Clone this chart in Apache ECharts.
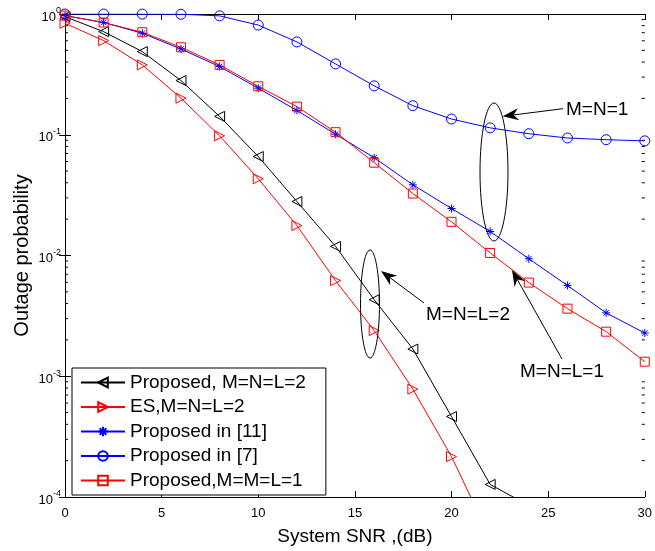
<!DOCTYPE html>
<html>
<head>
<meta charset="utf-8">
<script src="https://cdn.jsdelivr.net/npm/echarts@6/dist/echarts.min.js"></script>
<style>
  html, body { margin: 0; padding: 0; background: #fff; }
  #chart { width: 655px; height: 551px; }
</style>
</head>
<body>
<div id="chart"></div>
<script>
// x axis: system SNR in dB
const snr = [0, 2, 4, 6, 8, 10, 12, 14, 16, 18, 20, 22, 24, 26, 28, 30]
const xTicks = [0, 5, 10, 15, 20, 25, 30]
const yDecades = [1e-4, 1e-3, 1e-2, 1e-1, 1]

const seriesNames = ['Proposed, M=N=L=2', 'ES,M=N=L=2', 'Proposed in [11]', 'Proposed in [7]', 'Proposed,M=M=L=1']
// outage probability, one value per snr point (shorter arrays end below 1e-4)
const proposed2 = [0.95, 0.714, 0.488, 0.281, 0.142, 0.066, 0.028, 0.0119, 0.0043, 0.00168, 0.000464, 0.000127, 0.000085]
const es2 = [0.838, 0.602, 0.379, 0.201, 0.098, 0.0432, 0.0177, 0.00619, 0.00239, 0.000782, 0.000216, 0.000046]
const ref11 = [0.97, 0.85, 0.693, 0.513, 0.367, 0.243, 0.159, 0.101, 0.0646, 0.0385, 0.0245, 0.0158, 0.0094, 0.00565, 0.00335, 0.00228]
const ref7 = [1.0, 0.999, 0.998, 0.995, 0.965, 0.81, 0.587, 0.386, 0.254, 0.174, 0.135, 0.114, 0.102, 0.094, 0.091, 0.089]
const proposed1 = [0.97, 0.85, 0.706, 0.53, 0.379, 0.252, 0.171, 0.105, 0.0587, 0.0326, 0.019, 0.0105, 0.00597, 0.00363, 0.00234, 0.00132]

// minor log ticks 2..9 in every decade
const minorTicks = []
for (let d = -4; d < 0; d++) {
  for (let k = 2; k <= 9; k++) minorTicks.push(k * Math.pow(10, d))
}

const pair = (vals) => vals.map((v, i) => [snr[i], v])

const FONT = 'Liberation Sans, Arial, sans-serif'

const makeSeries = (name, vals, color, symbol, size) => ({
  name,
  type: 'line',
  data: pair(vals),
  symbol,
  symbolSize: size,
  showSymbol: true,
  lineStyle: { color, width: 1 },
  itemStyle: { color: 'rgba(255,255,255,0)', borderColor: color, borderWidth: 1 },
  emphasis: { disabled: true },
  clip: true,
  z: 3,
})

// arrow with a notched head, from text to the curves
const arrow = (x1, y1, x2, y2) => {
  const a = Math.atan2(y2 - y1, x2 - x1)
  const len = 16, half = 6, notch = 11
  const bx = x2 - len * Math.cos(a), by = y2 - len * Math.sin(a)
  const nx = x2 - notch * Math.cos(a), ny = y2 - notch * Math.sin(a)
  const px = -Math.sin(a) * half, py = Math.cos(a) * half
  return [
    { type: 'line', shape: { x1, y1, x2: nx, y2: ny }, style: { stroke: '#000', lineWidth: 1 }, z: 10 },
    {
      type: 'polygon',
      shape: { points: [[x2, y2], [bx + px, by + py], [nx, ny], [bx - px, by - py]] },
      style: { fill: '#000' },
      z: 10,
    },
  ]
}

const chart = echarts.init(document.getElementById('chart'))

const option = {
  animation: false,
  backgroundColor: '#fff',
  grid: { left: 65, right: 7, top: 14, bottom: 53 },
  legend: {
    data: seriesNames,
    orient: 'vertical',
    left: 72,
    top: 368,
    padding: [5, 20, 5, 8],
    itemWidth: 44,
    itemHeight: 12,
    itemGap: 5.5,
    backgroundColor: '#fff',
    borderColor: '#000',
    borderWidth: 1,
    borderRadius: 0,
    textStyle: { fontFamily: FONT, fontSize: 19, color: '#000' },
    selectedMode: false,
    z: 20,
  },
  xAxis: [
    {
      type: 'value',
      min: 0,
      max: 30,
      interval: 5,
      name: 'System SNR ,(dB)',
      nameLocation: 'middle',
      nameGap: 30,
      nameTextStyle: { fontFamily: FONT, fontSize: 19, color: '#000' },
      axisLine: { lineStyle: { color: '#000', width: 1 } },
      axisTick: { inside: true, length: 6, lineStyle: { color: '#000' } },
      axisLabel: {
        fontFamily: FONT, fontSize: 13, color: '#000', margin: 10,
        formatter: (v) => (xTicks.includes(v) ? String(v) : ''),
      },
      splitLine: { show: false },
    },
    {
      type: 'value',
      position: 'top',
      min: 0,
      max: 30,
      interval: 5,
      axisLine: { lineStyle: { color: '#000', width: 1 } },
      axisTick: { inside: true, length: 6, lineStyle: { color: '#000' } },
      axisLabel: { show: false },
      splitLine: { show: false },
    },
  ],
  yAxis: [
    {
      type: 'log',
      logBase: 10,
      min: yDecades[0],
      max: yDecades[yDecades.length - 1],
      splitNumber: 4,
      name: 'Outage probability',
      nameLocation: 'middle',
      nameGap: 33,
      nameMoveOverlap: false,
      nameTextStyle: { fontFamily: FONT, fontSize: 20, color: '#000' },
      axisLine: { lineStyle: { color: '#000', width: 1 } },
      axisTick: { inside: true, length: 6, lineStyle: { color: '#000' } },
      axisLabel: {
        margin: 4,
        formatter: (v) => '{b|10}{s|' + Math.round(Math.log10(v)) + '}',
        rich: {
          b: { fontFamily: FONT, fontSize: 13, color: '#000', padding: [6, 0, 0, 0] },
          s: { fontFamily: FONT, fontSize: 9, color: '#000', padding: [0, 0, 6, 0] },
        },
      },
      splitLine: { show: false },
    },
    {
      type: 'log',
      logBase: 10,
      position: 'right',
      min: yDecades[0],
      max: yDecades[yDecades.length - 1],
      splitNumber: 4,
      axisLine: { lineStyle: { color: '#000', width: 1 } },
      axisTick: { inside: true, length: 6, lineStyle: { color: '#000' } },
      axisLabel: { show: false },
      splitLine: { show: false },
    },
  ],
  series: [
    makeSeries(seriesNames[0], proposed2, '#000000', 'path://M0,5L10,0L10,10Z', 10),
    makeSeries(seriesNames[1], es2, '#ff0000', 'path://M10,5L0,0L0,10Z', 10),
    makeSeries(seriesNames[2], ref11, '#0000ff', 'path://M5,0L5,10M0,5L10,5M1.5,1.5L8.5,8.5M1.5,8.5L8.5,1.5', 8),
    makeSeries(seriesNames[3], ref7, '#0000ff', 'circle', 10),
    makeSeries(seriesNames[4], proposed1, '#ff0000', 'rect', 9),
    {
      // minor ticks on both log axes
      type: 'custom',
      name: 'minor',
      data: minorTicks.map((v) => [0, v]),
      silent: true,
      renderItem: (params, api) => {
        const v = api.value(1)
        const l = api.coord([0, v])
        const r = api.coord([30, v])
        return {
          type: 'group',
          children: [
            { type: 'line', shape: { x1: l[0], y1: l[1], x2: l[0] + 3, y2: l[1] }, style: { stroke: '#000', lineWidth: 1 } },
            { type: 'line', shape: { x1: r[0], y1: r[1], x2: r[0] - 3, y2: r[1] }, style: { stroke: '#000', lineWidth: 1 } },
          ],
        }
      },
      z: 2,
    },
  ],
  graphic: [
    { type: 'ellipse', shape: { cx: 494, cy: 172, rx: 14, ry: 69 }, style: { fill: 'none', stroke: '#000', lineWidth: 1 }, z: 10 },
    { type: 'ellipse', shape: { cx: 370, cy: 304, rx: 9.5, ry: 54 }, style: { fill: 'none', stroke: '#000', lineWidth: 1 }, z: 10 },
    ...arrow(563, 108.7, 502.7, 116.3),
    ...arrow(424, 303, 381, 271),
    ...arrow(562, 359, 512, 270),
    { type: 'text', left: 566, top: 100, style: { text: 'M=N=1', font: '19px ' + FONT, fill: '#000' }, z: 10 },
    { type: 'text', left: 426, top: 305, style: { text: 'M=N=L=2', font: '19px ' + FONT, fill: '#000' }, z: 10 },
    { type: 'text', left: 520, top: 362, style: { text: 'M=N=L=1', font: '19px ' + FONT, fill: '#000' }, z: 10 },
  ],
}

chart.setOption(option)
</script>
</body>
</html>
